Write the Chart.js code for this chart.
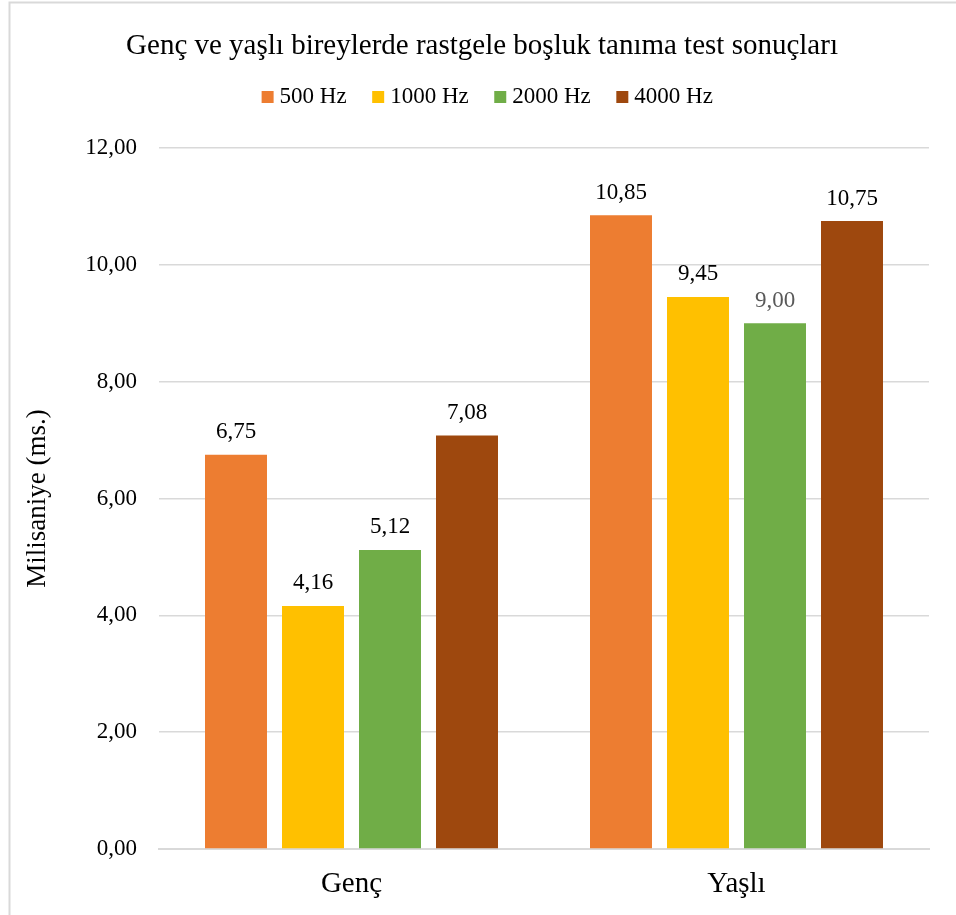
<!DOCTYPE html>
<html>
<head>
<meta charset="utf-8">
<script src="https://cdn.jsdelivr.net/npm/chart.js@4.4.1/dist/chart.umd.min.js"></script>
<style>
  html, body { margin: 0; padding: 0; background: #fff; }
  #wrap { position: absolute; left: 0; top: 0; width: 956px; height: 915px; }
</style>
</head>
<body>
<div id="wrap"><canvas id="chart"></canvas></div>
<script>
// Chart data
var categories = ['Genç', 'Yaşlı'];
var seriesNames = ['500 Hz', '1000 Hz', '2000 Hz', '4000 Hz'];
var hz500 = [6.75, 10.85];
var hz1000 = [4.16, 9.45];
var hz2000 = [5.12, 9.00];
var hz4000 = [7.08, 10.75];
var yTicks = [0, 2, 4, 6, 8, 10, 12];

// Define colors
var colors = ['#ED7D31', '#FFC000', '#70AD47', '#9E480E'];
var fontFamily = '"Liberation Serif", "Times New Roman", serif';

var fmt = function (v) { return v.toFixed(2).replace('.', ','); };

// outer frame
var framePlugin = {
  id: 'frame',
  beforeDraw: function (chart) {
    var c = chart.ctx;
    c.save();
    c.fillStyle = '#fff';
    c.fillRect(0, 0, chart.width, chart.height);
    c.strokeStyle = '#d9d9d9';
    c.lineWidth = 2;
    c.strokeRect(9.5, 2.5, 980, 960);
    c.restore();
  }
};

// extra space under the legend, and centre it without the trailing padding
var legendGapPlugin = {
  id: 'legendGap',
  beforeLayout: function (chart) {
    var lg = chart.legend;
    if (lg && !lg._gapWrapped) {
      var orig = lg.fit;
      lg.fit = function () {
        orig.call(this);
        this.height += 29.6;
        if (this.lineWidths && this.lineWidths.length) this.lineWidths[0] -= 16;
      };
      lg._gapWrapped = true;
    }
  }
};

// value labels above bars
var valueLabels = {
  id: 'valueLabels',
  afterDatasetsDraw: function (chart) {
    var c = chart.ctx;
    c.save();
    c.font = '23px ' + fontFamily;
    c.textAlign = 'center';
    c.textBaseline = 'alphabetic';
    chart.data.datasets.forEach(function (ds, i) {
      chart.getDatasetMeta(i).data.forEach(function (bar, j) {
        var v = ds.data[j];
        c.fillStyle = (i === 2 && j === 1) ? '#595959' : '#000';
        c.fillText(fmt(v), bar.x, bar.y - 16.5);
      });
    });
    c.restore();
  }
};

var datasets = [hz500, hz1000, hz2000, hz4000].map(function (vals, i) {
  return {
    label: seriesNames[i],
    data: vals,
    backgroundColor: colors[i],
    barPercentage: 0.805,
    categoryPercentage: 0.8
  };
});

var config = {
  type: 'bar',
  data: { labels: categories, datasets: datasets },
  options: {
    responsive: true,
    maintainAspectRatio: false,
    animation: false,
    layout: { padding: { left: 8, right: 0, top: 0, bottom: 0 } },
    plugins: {
      title: {
        display: true,
        text: 'Genç ve yaşlı bireylerde rastgele boşluk tanıma test sonuçları',
        color: '#000',
        font: { family: fontFamily, size: 29, weight: 'normal' },
        padding: { top: 28.6, bottom: -9 }
      },
      legend: {
        display: true,
        position: 'top',
        labels: {
          color: '#000',
          font: { family: fontFamily, size: 23 },
          usePointStyle: true,
          pointStyle: 'rect',
          boxWidth: 1,
          boxHeight: 12,
          padding: 31
        }
      },
      tooltip: { enabled: false }
    },
    scales: {
      x: {
        grid: { display: false, drawTicks: false },
        border: { display: true, color: '#d9d9d9', width: 2 },
        ticks: { color: '#000', font: { family: fontFamily, size: 29 }, padding: 18 },
        afterFit: function (s) { s.height = 66; }
      },
      y: {
        min: 0,
        max: 12,
        afterBuildTicks: function (s) { s.ticks = yTicks.map(function (v) { return { value: v }; }); },
        grid: { color: '#d9d9d9', lineWidth: 1.5, drawTicks: false },
        border: { display: false },
        ticks: {
          color: '#000',
          font: { family: fontFamily, size: 23 },
          padding: 22,
          callback: function (v) { return fmt(v); }
        },
        title: {
          display: true,
          text: 'Milisaniye (ms.)',
          color: '#000',
          font: { family: fontFamily, size: 27 },
          padding: { top: 14, bottom: 0 }
        },
        afterFit: function (s) { s.width = 151; }
      },
      // empty right-hand spacer so the title stays centred on the frame
      yRight: {
        position: 'right',
        display: true,
        grid: { display: false, drawTicks: false },
        border: { display: false },
        ticks: { display: false },
        afterFit: function (s) { s.width = 27; }
      }
    }
  },
  plugins: [framePlugin, legendGapPlugin, valueLabels]
};

var myChart = new Chart(document.getElementById('chart'), config);
</script>
</body>
</html>
